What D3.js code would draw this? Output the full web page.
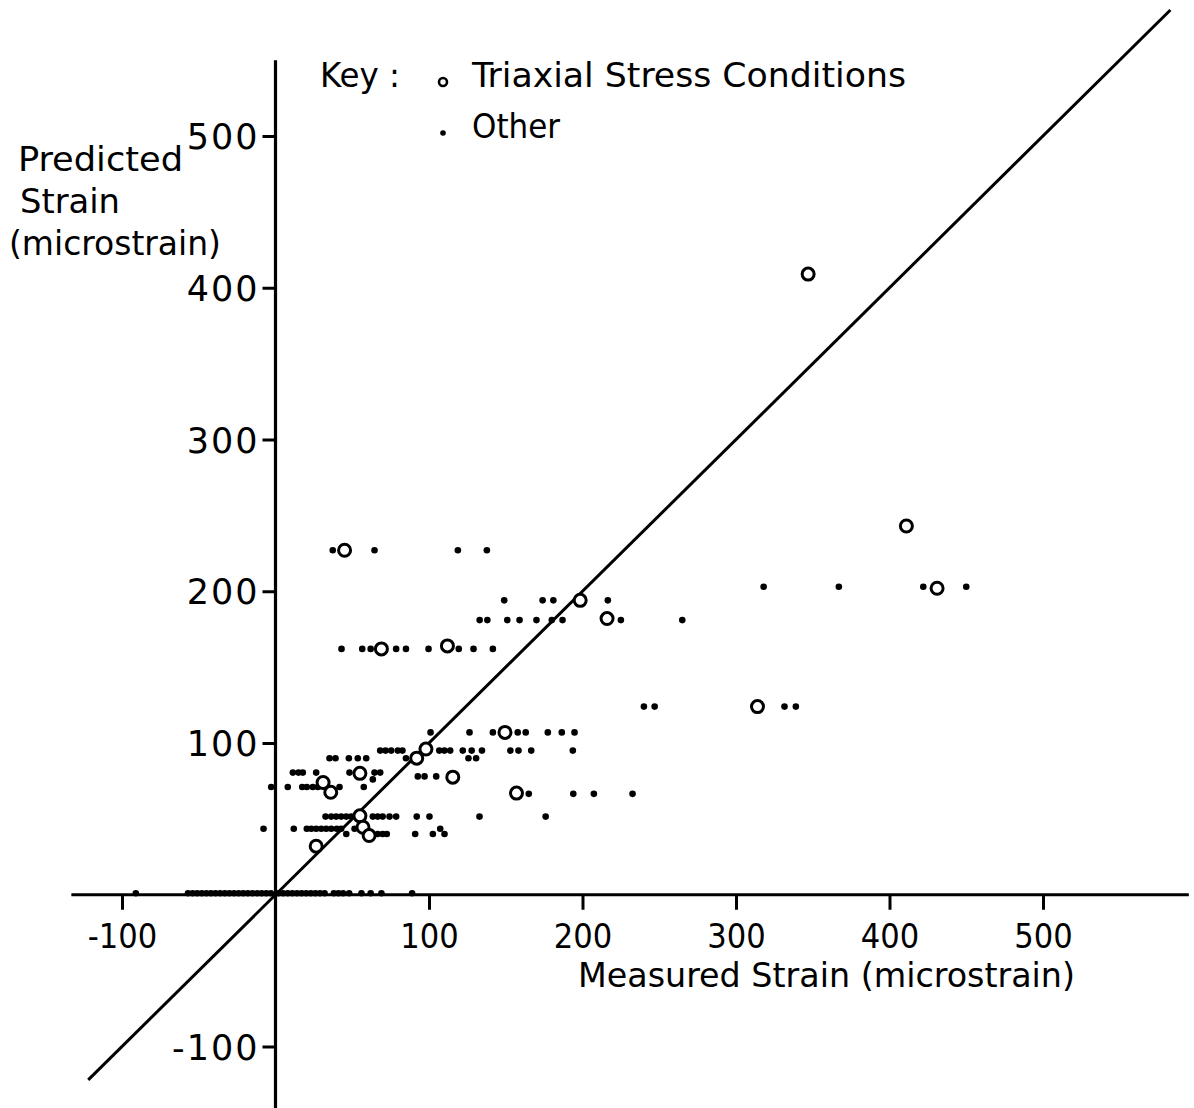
<!DOCTYPE html>
<html>
<head>
<meta charset="utf-8">
<script src="https://cdn.jsdelivr.net/npm/d3@7"></script>
<style>
  html, body { margin: 0; padding: 0; background: #fff; }
  svg { display: block; }
  text { font-family: "DejaVu Sans Condensed", "DejaVu Sans", sans-serif; fill: #000; }
</style>
</head>
<body>
<svg id="chart" width="1194" height="1108"></svg>
<script>
// Measured vs predicted strain (microstrain)
const xTicks = [-100, 100, 200, 300, 400, 500];
const yTicks = [-100, 100, 200, 300, 400, 500];

// Triaxial stress conditions: [measured, predicted]
const triaxialPoints = [
  [347, 409], [411, 243], [431, 202], [314, 124], [198.5, 194], [216, 182],
  [45, 227], [112, 164], [69, 162], [149.5, 107], [98, 96], [92, 90],
  [115.5, 77.5], [55, 80], [31, 74], [36, 67.5], [157, 67], [55, 52],
  [57, 44.5], [61, 39], [26.5, 32]
];

// Other stress conditions: [measured, predicted]
const otherPoints = [
  [37.3, 227], [64.5, 227], [118.8, 227], [137.7, 227],
  [318, 203], [367, 203], [422, 203], [450, 203],
  [149, 194], [174, 194], [181, 194], [216.5, 194],
  [133, 181], [138, 181], [151, 181], [159, 181], [170, 181], [180, 181], [187, 181], [225, 181], [265, 181],
  [43, 162], [56.5, 162], [62, 162], [78.6, 162], [85, 162], [99.7, 162], [119.4, 162], [129, 162], [141.6, 162],
  [240, 124], [247, 124], [331.6, 124], [339, 124],
  [101, 107], [126.4, 107], [141.6, 107], [157.8, 107], [163, 107], [177.4, 107], [186.5, 107], [194.8, 107],
  [68.2, 95], [71.7, 95], [75.4, 95], [79.7, 95], [82.7, 95], [106.7, 95], [110, 95], [113.8, 95],
  [122, 95], [127.8, 95], [134.5, 95], [153, 95], [158.3, 95], [166.6, 95], [193.7, 95],
  [85, 90], [125.7, 90], [130.7, 90], [35.2, 90], [39.1, 90], [47.8, 90], [53.6, 90], [59.1, 90],
  [11.3, 80.5], [15, 80.5], [17.8, 80.5], [26.5, 80.5], [48.2, 80.5], [64.5, 80.5], [68.2, 80.5],
  [63.4, 76], [92.7, 78], [97.1, 78], [104.7, 78],
  [-2.8, 71], [8, 71], [17.4, 71], [20.4, 71], [24.3, 71], [27.6, 71], [41.7, 71], [57.5, 71],
  [165, 66.5], [194, 66.5], [207.4, 66.5], [232.6, 66.5],
  [32.6, 51.5], [36.3, 51.5], [39.5, 51.5], [42.8, 51.5], [46.1, 51.5], [49.3, 51.5], [63.4, 51.5],
  [66.6, 51.5], [69.8, 51.5], [74.3, 51.5], [78.6, 51.5], [92, 51.5], [100.3, 51.5], [132.9, 51.5], [176, 51.5],
  [-7.8, 43.5], [11.9, 43.5], [20.4, 43.5], [23.3, 43.5], [26.5, 43.5], [29.8, 43.5], [33, 43.5],
  [36.3, 43.5], [39.9, 43.5], [42.8, 43.5], [51.5, 43.5], [107.3, 43.5],
  [46.1, 40], [66.6, 40], [69.8, 40], [72.5, 40], [91, 40], [102.5, 40], [110.1, 40],
  // points lying close to zero predicted strain
  [-91, 1], [-57, 1], [-54, 1], [-51, 1], [-48, 1], [-45, 1], [-42, 1], [-39, 1], [-36, 1], [-33, 1],
  [-30, 1], [-27, 1], [-24, 1], [-21, 1], [-18, 1], [-15, 1], [-12, 1], [-9, 1], [-6, 1], [-3, 1],
  [2, 1], [5, 1], [8, 1], [11, 1], [14, 1], [17, 1], [20, 1], [23, 1], [26, 1], [29, 1], [32, 1],
  [38, 1], [41, 1], [44, 1], [48, 1], [56, 1], [62, 1], [69, 1], [89, 1]
];

// Line of equality (predicted = measured)
const equalityRange = [-122, 583];

const svg = d3.select("#chart");

const x = d3.scaleLinear().domain([-100, 500]).range([122, 1043]);
const y = d3.scaleLinear().domain([-100, 500]).range([1046.5, 136]);

// Tick labels use a plain hyphen for negatives
const tickFmt = d => d < 0 ? "-" + Math.abs(d) : String(d);

// Axis lines crossing at the origin
svg.append("line")
  .attr("x1", x(-133)).attr("x2", x(595))
  .attr("y1", y(0)).attr("y2", y(0))
  .attr("stroke", "#000").attr("stroke-width", 3.2);
svg.append("line")
  .attr("x1", x(0)).attr("x2", x(0))
  .attr("y1", y(550)).attr("y2", y(-142))
  .attr("stroke", "#000").attr("stroke-width", 3.2);

// x ticks hang below the horizontal axis
const xAxis = svg.append("g")
  .attr("transform", `translate(0,${y(0)})`)
  .call(d3.axisBottom(x).tickValues(xTicks).tickSize(15).tickSizeOuter(0).tickFormat(tickFmt));
xAxis.select(".domain").remove();
xAxis.selectAll(".tick line").attr("stroke", "#000").attr("stroke-width", 3);
xAxis.selectAll(".tick text")
  .attr("y", 41).attr("dy", "0.35em")
  .style("font-family", '"DejaVu Sans Condensed", "DejaVu Sans", sans-serif')
  .style("font-size", "34px");

// y ticks point left of the vertical axis
const yAxis = svg.append("g")
  .attr("transform", `translate(${x(0)},0)`)
  .call(d3.axisLeft(y).tickValues(yTicks).tickSize(13).tickSizeOuter(0).tickFormat(tickFmt));
yAxis.select(".domain").remove();
yAxis.selectAll(".tick line").attr("stroke", "#000").attr("stroke-width", 3);
yAxis.selectAll(".tick text")
  .attr("x", -16).attr("dy", "0.36em")
  .style("font-family", '"DejaVu Sans", sans-serif')
  .style("font-size", "35px")
  .style("letter-spacing", "2px");

// Line of equality
svg.append("line")
  .attr("x1", x(equalityRange[0])).attr("y1", y(equalityRange[0]))
  .attr("x2", x(equalityRange[1])).attr("y2", y(equalityRange[1]))
  .attr("stroke", "#000").attr("stroke-width", 3);

// Other points: solid dots
svg.append("g").selectAll("circle")
  .data(otherPoints)
  .join("circle")
  .attr("cx", d => x(d[0]))
  .attr("cy", d => y(d[1]))
  .attr("r", 3.3)
  .attr("fill", "#000");

// Triaxial points: open rings
svg.append("g").selectAll("circle")
  .data(triaxialPoints)
  .join("circle")
  .attr("cx", d => x(d[0]))
  .attr("cy", d => y(d[1]))
  .attr("r", 6)
  .attr("fill", "#fff")
  .attr("stroke", "#000")
  .attr("stroke-width", 3);

// Axis titles
const yTitle = svg.append("g").style("font-size", "34px");
yTitle.append("text").attr("x", 18).attr("y", 171).attr("textLength", 165).attr("lengthAdjust", "spacingAndGlyphs").text("Predicted");
yTitle.append("text").attr("x", 20).attr("y", 213).attr("textLength", 100).attr("lengthAdjust", "spacingAndGlyphs").text("Strain");
yTitle.append("text").attr("x", 9).attr("y", 255).attr("textLength", 212).attr("lengthAdjust", "spacingAndGlyphs").text("(microstrain)");

svg.append("text")
  .attr("x", 578).attr("y", 987)
  .attr("textLength", 497).attr("lengthAdjust", "spacingAndGlyphs")
  .style("font-size", "34px")
  .text("Measured Strain (microstrain)");

// Key
const key = svg.append("g").style("font-size", "34px");
key.append("text").attr("x", 320).attr("y", 87).attr("textLength", 80).attr("lengthAdjust", "spacingAndGlyphs").text("Key :");
key.append("circle").attr("cx", 443).attr("cy", 82).attr("r", 4)
  .attr("fill", "none").attr("stroke", "#000").attr("stroke-width", 2.6);
key.append("text").attr("x", 472).attr("y", 87).attr("textLength", 434).attr("lengthAdjust", "spacingAndGlyphs").text("Triaxial Stress Conditions");
key.append("circle").attr("cx", 443).attr("cy", 133).attr("r", 2.8).attr("fill", "#000");
key.append("text").attr("x", 472).attr("y", 138).attr("textLength", 88).attr("lengthAdjust", "spacingAndGlyphs").text("Other");
</script>
</body>
</html>
